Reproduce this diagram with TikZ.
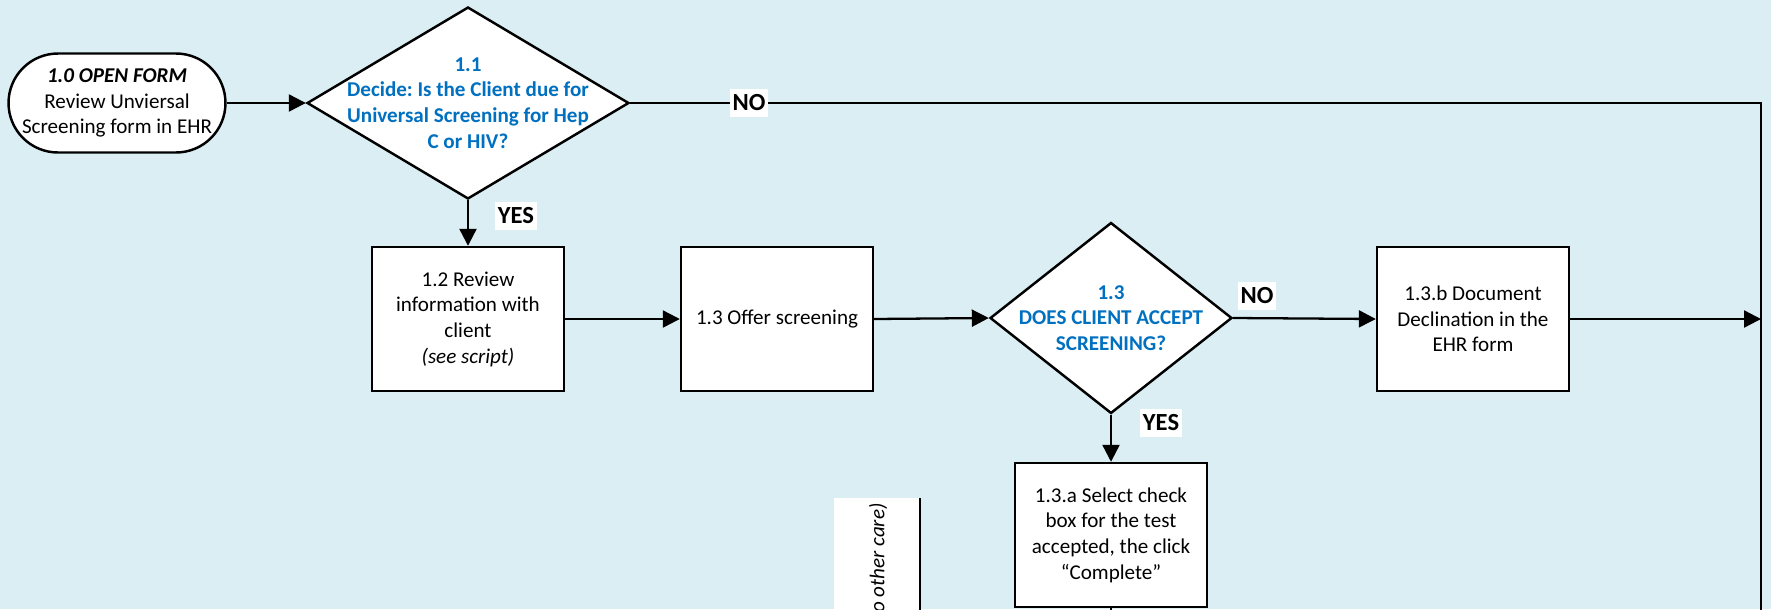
\documentclass[tikz,border=0pt]{standalone}
\usepackage{fontspec}
\setmainfont{Carlito}
\frenchspacing
\usetikzlibrary{arrows.meta,shapes.geometric}
\definecolor{flowbg}{RGB}{218,238,243}
\definecolor{flowblue}{RGB}{0,112,192}
\tikzset{
  flow start/.style={draw=black, line width=1.4pt, fill=white, rounded corners=0.99cm,
    minimum width=4.34cm, minimum height=1.98cm, inner sep=0pt, align=center},
  flow box/.style={draw=black, line width=1.4pt, fill=white,
    minimum width=3.84cm, minimum height=2.88cm, inner sep=0pt, align=center},
  flow decide/.style={diamond, draw=black, line width=1.4pt, fill=white, inner sep=0pt},
  flow question/.style={align=center, text=flowblue, font=\fontsize{12}{14.6}\selectfont\bfseries},
  flow line/.style={line width=1.3pt, black},
  flow link/.style={flow line, -{Triangle[length=0.34cm, width=0.34cm]}},
  flow tag/.style={fill=white, inner xsep=1.5pt, inner ysep=3.5pt, font=\fontsize{14}{16}\selectfont\bfseries},
}

\begin{document}
\begin{tikzpicture}[x=0.02cm, y=-0.02cm, font=\fontsize{12}{14.6}\selectfont]
    \fill[flowbg] (0,0) rectangle (1771,609);
    \useasboundingbox (0,0) rectangle (1771,609);

    % ---- steps
    \node[flow start] (start) at (117,103)
      {\textbf{\textit{1.0 OPEN FORM}}\\Review Unviersal\\Screening form in EHR};
    \node[flow decide, minimum width=6.44cm, minimum height=3.84cm] (d11) at (468,103) {};
    \node[flow question] (d11 text) at (d11)
      {1.1\\Decide: Is the Client due for\\Universal Screening for Hep\\C or HIV?};
    \node[flow box] (b12) at (468,319) {1.2 Review\\information with\\client\\\textit{(see script)}};
    \node[flow box] (b13) at (777,319) {1.3 Offer screening};
    \node[flow decide, minimum width=4.84cm, minimum height=3.82cm] (d13) at (1111,318) {};
    \node[flow question] (d13 text) at (d13) {1.3\\DOES CLIENT ACCEPT\\SCREENING?};
    \node[flow box] (b13b) at (1473,319) {1.3.b Document\\Declination in the\\EHR form};
    \node[flow box] (b13a) at (1111,535) {1.3.a Select check\\box for the test\\accepted, the click\\“Complete”};

    \coordinate (rtop) at (1761,103);
    \coordinate (rbot) at (1761,640);
    \coordinate (abot) at (1111,640);

    % ---- side lane (cut off)
    \fill[white] (834,498) rectangle (920,640);
    \draw[flow line] (920,498) -- (920,640);
    \node[rotate=90, anchor=east, inner sep=0pt, text=black,
      font=\fontsize{12}{14}\selectfont\itshape] (lane) at (878,503) {o other care)};

    % ---- connectors
    \draw[flow link] (start.east) -- (d11.west);
    \draw[flow link] (d11.south) -- (b12.north);
    \draw[flow link] (b12) -- (b13);
    \draw[flow link] (b13.east) -- (d13.west);
    \draw[flow link] (d13.east) -- (b13b.west);
    \draw[flow link] (d13.south) -- (b13a.north);
    \draw[flow link] (b13b.east) -- (b13b.east -| rtop);
    \draw[flow line] (d11.east) -- (rtop) -- (rbot);
    \draw[flow line] (b13a.south) -- (abot);

    % ---- answers
    \node[flow tag] (no1) at (749,103) {NO};
    \node[flow tag] (yes1) at (516,216) {YES};
    \node[flow tag] (no2) at (1257,296) {NO};
    \node[flow tag] (yes2) at (1161,423) {YES};
\end{tikzpicture}
\end{document}
